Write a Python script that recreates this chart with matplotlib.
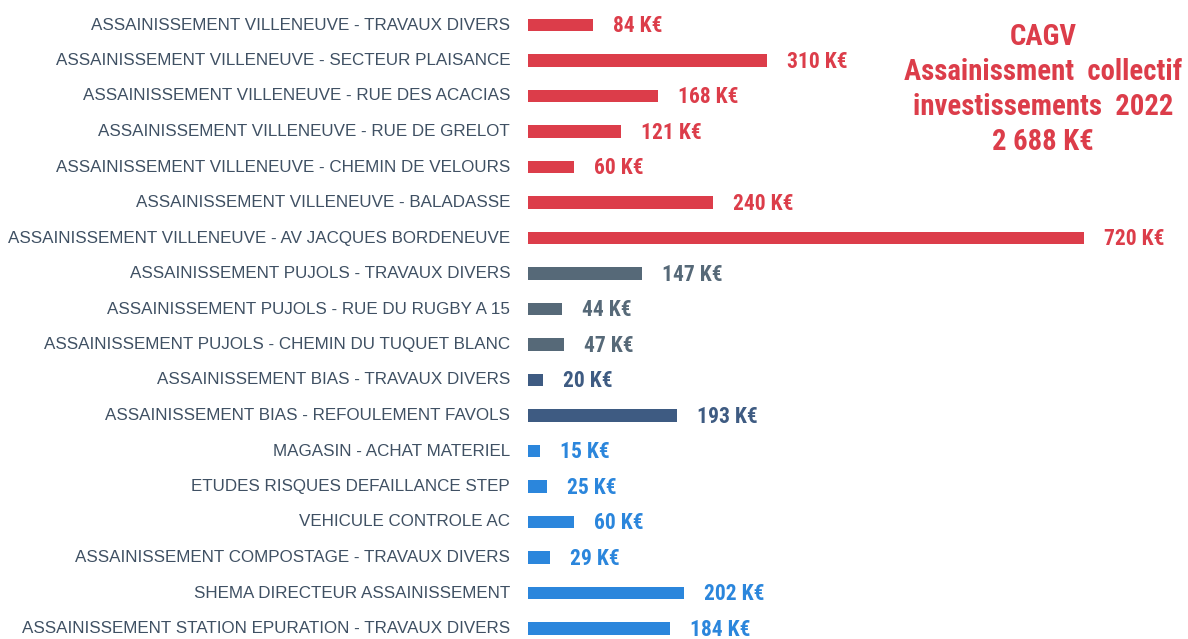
import matplotlib
matplotlib.use("Agg")
import matplotlib.pyplot as plt
from matplotlib import font_manager as fm

categories = [
    "ASSAINISSEMENT VILLENEUVE - TRAVAUX DIVERS",
    "ASSAINISSEMENT VILLENEUVE - SECTEUR PLAISANCE",
    "ASSAINISSEMENT VILLENEUVE - RUE DES ACACIAS",
    "ASSAINISSEMENT VILLENEUVE - RUE DE GRELOT",
    "ASSAINISSEMENT VILLENEUVE - CHEMIN DE VELOURS",
    "ASSAINISSEMENT VILLENEUVE - BALADASSE",
    "ASSAINISSEMENT VILLENEUVE - AV JACQUES BORDENEUVE",
    "ASSAINISSEMENT PUJOLS - TRAVAUX DIVERS",
    "ASSAINISSEMENT PUJOLS - RUE DU RUGBY A 15",
    "ASSAINISSEMENT PUJOLS - CHEMIN DU TUQUET BLANC",
    "ASSAINISSEMENT BIAS - TRAVAUX DIVERS",
    "ASSAINISSEMENT BIAS - REFOULEMENT FAVOLS",
    "MAGASIN - ACHAT MATERIEL",
    "ETUDES RISQUES DEFAILLANCE STEP",
    "VEHICULE CONTROLE AC",
    "ASSAINISSEMENT COMPOSTAGE - TRAVAUX DIVERS",
    "SHEMA DIRECTEUR ASSAINISSEMENT",
    "ASSAINISSEMENT STATION EPURATION - TRAVAUX DIVERS",
]
values = [84, 310, 168, 121, 60, 240, 720, 147, 44, 47, 20, 193, 15, 25, 60, 29, 202, 184]
groups = ["Villeneuve"] * 7 + ["Pujols"] * 3 + ["Bias"] * 2 + ["Autres"] * 6
group_colors = {"Villeneuve": "#DC3D4A", "Pujols": "#566978", "Bias": "#3E5B82", "Autres": "#2B86DC"}
title_lines = ["CAGV", "Assainissment  collectif", "investissements  2022", "2 688 K€"]

names = {f.name for f in fm.fontManager.ttflist}
narrow = None
for cand in ["Liberation Sans Narrow", "Roboto Condensed", "DejaVu Sans Condensed",
             "Open Sans Condensed", "Arial Narrow"]:
    if cand in names:
        narrow = cand
        break
if narrow is None:
    narrow = "Liberation Sans"
    val_size, title_size = 13.5, 18
else:
    val_size, title_size = 15.5, 20.7

fig = plt.figure(figsize=(11.88, 6.39), dpi=100)
ax = fig.add_axes([528 / 1188, 0, 660 / 1188, 1])
px_per_val = 556 / 720
ax.set_xlim(0, 660 / px_per_val)
ax.set_ylim((639 - 25) / 35.5, -25 / 35.5)

ypos = list(range(len(categories)))
colors = [group_colors[g] for g in groups]
ax.barh(ypos, values, height=0.34, color=colors)

off = 20 / px_per_val
for y, v, c in zip(ypos, values, colors):
    ax.text(v + off, y + 0.03, f"{v} K€", color=c, fontsize=val_size, fontweight="bold",
            family=[narrow, "DejaVu Sans"], va="center", ha="left")

for y, lab in zip(ypos, categories):
    ax.text(-18 / px_per_val, y, lab, color="#3F5063", fontsize=12.25,
            family=["Liberation Sans", "DejaVu Sans"], va="center", ha="right",
            clip_on=False)

ax.axis("off")

for i, line in enumerate(title_lines):
    fig.text(1043 / 1188, 1 - (37 + 35 * i) / 639, line, color="#DC3D4A",
             fontsize=title_size, fontweight="bold", family=[narrow, "DejaVu Sans"],
             ha="center", va="center")

fig.savefig("out.png", dpi=100, facecolor="white")
